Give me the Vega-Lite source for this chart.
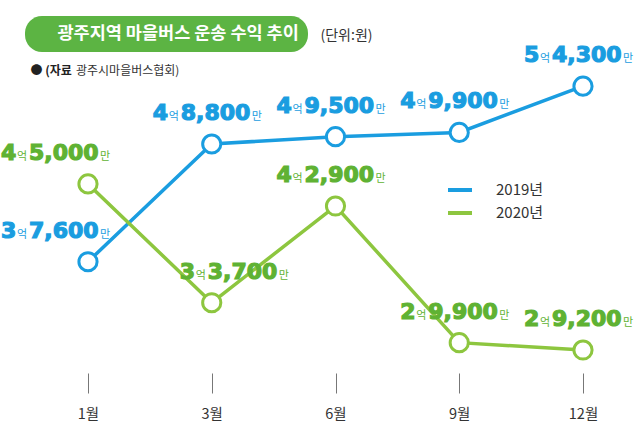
{
  "$schema": "https://vega.github.io/schema/vega-lite/v6.json",
  "autosize": "none",
  "padding": {"left": 0, "top": 0, "right": 0, "bottom": 69},
  "width": 640,
  "height": 370,
  "background": "white",
  "config": {"view": {"stroke": null}, "font": "Noto Sans CJK KR"},
  "title": {"text": "광주시마을버스협회)", "anchor": "start", "frame": "group", "orient": "top", "offset": 0, "dx": 76, "dy": 83, "baseline": "middle", "fontSize": 12, "fontWeight": "normal", "color": "#333", "font": "Noto Sans CJK KR"},
  "layer": [
    {
      "data": {"values": [
        {"month": "1월", "year": "2019년", "value": 37600, "eok": "3", "man": "7,600"},
        {"month": "3월", "year": "2019년", "value": 48800, "eok": "4", "man": "8,800"},
        {"month": "6월", "year": "2019년", "value": 49500, "eok": "4", "man": "9,500"},
        {"month": "9월", "year": "2019년", "value": 49900, "eok": "4", "man": "9,900"},
        {"month": "12월", "year": "2019년", "value": 54300, "eok": "5", "man": "4,300"},
        {"month": "1월", "year": "2020년", "value": 45000, "eok": "4", "man": "5,000"},
        {"month": "3월", "year": "2020년", "value": 33700, "eok": "3", "man": "3,700"},
        {"month": "6월", "year": "2020년", "value": 42900, "eok": "4", "man": "2,900"},
        {"month": "9월", "year": "2020년", "value": 29900, "eok": "2", "man": "9,900"},
        {"month": "12월", "year": "2020년", "value": 29200, "eok": "2", "man": "9,200"}
      ]},
      "encoding": {
        "x": {"field": "month", "type": "ordinal", "sort": ["1월", "3월", "6월", "9월", "12월"],
          "scale": {"type": "point", "range": [88, 583], "padding": 0},
          "axis": {"title": "● (자료", "titleX": 30, "titleY": -303, "titleAlign": "left", "titleBaseline": "middle", "titleFontSize": 12, "titleFontWeight": "bold", "titleColor": "#222", "titleFont": "Noto Sans CJK KR",
            "domain": false, "grid": false, "ticks": true, "tickSize": 20, "tickColor": "#777", "tickWidth": 1, "offset": 3,
            "labelFontSize": 14.5, "labelColor": "#333", "labelPadding": 14, "labelAngle": 0, "labelFont": "Noto Sans CJK KR"}},
        "y": {"field": "value", "type": "quantitative",
          "scale": {"domain": [27300, 62500], "nice": false, "zero": false},
          "axis": {"title": "(단위:원)", "titleX": 320, "titleY": 35, "titleAngle": 0, "titleAlign": "left", "titleBaseline": "middle", "titleFontSize": 14, "titleFontWeight": "normal", "titleColor": "#333", "titleFont": "Noto Sans CJK KR",
            "labels": false, "ticks": false, "domain": false, "grid": false}}
      },
      "layer": [
        {"mark": {"type": "line", "strokeWidth": 3.5},
         "encoding": {"color": {"field": "year", "type": "nominal",
           "scale": {"domain": ["2019년", "2020년"], "range": ["#1a9de0", "#8dc63f"]},
           "legend": {"orient": "none", "legendX": 446, "legendY": 176, "title": null, "symbolType": "stroke", "symbolSize": 576, "symbolStrokeWidth": 4, "labelFontSize": 15, "labelColor": "#333", "labelOffset": 22, "padding": 0, "rowPadding": 1, "labelFont": "Noto Sans CJK KR"}}}},
        {"mark": {"type": "point", "shape": "circle", "filled": true, "fill": "white", "size": 330, "strokeWidth": 3, "opacity": 1},
         "encoding": {"stroke": {"field": "year", "type": "nominal",
           "scale": {"domain": ["2019년", "2020년"], "range": ["#1a9de0", "#8dc63f"]}, "legend": null}}},

        {"transform": [{"filter": "datum.month === '1월'"}],
         "mark": {"type": "text", "align": "left", "baseline": "alphabetic", "font": "DejaVu Sans", "fontWeight": "bold", "fontSize": 22, "strokeWidth": 1.2, "dx": -87, "dy": -24},
         "encoding": {"text": {"field": "eok"}, "fill": {"condition": {"test": "datum.year === '2019년'", "value": "#1a9de0"}, "value": "#5fb233"}, "stroke": {"condition": {"test": "datum.year === '2019년'", "value": "#1a9de0"}, "value": "#5fb233"}}},
        {"transform": [{"filter": "datum.month === '1월'"}],
         "mark": {"type": "text", "text": "억", "align": "left", "baseline": "alphabetic", "font": "Noto Sans CJK KR", "fontSize": 11, "dx": -71, "dy": -24},
         "encoding": {"fill": {"condition": {"test": "datum.year === '2019년'", "value": "#1a9de0"}, "value": "#5fb233"}}},
        {"transform": [{"filter": "datum.month === '1월'"}],
         "mark": {"type": "text", "align": "left", "baseline": "alphabetic", "font": "DejaVu Sans", "fontWeight": "bold", "fontSize": 22, "strokeWidth": 1.2, "dx": -59, "dy": -24},
         "encoding": {"text": {"field": "man"}, "fill": {"condition": {"test": "datum.year === '2019년'", "value": "#1a9de0"}, "value": "#5fb233"}, "stroke": {"condition": {"test": "datum.year === '2019년'", "value": "#1a9de0"}, "value": "#5fb233"}}},
        {"transform": [{"filter": "datum.month === '1월'"}],
         "mark": {"type": "text", "text": "만", "align": "left", "baseline": "alphabetic", "font": "Noto Sans CJK KR", "fontSize": 11, "dx": 12, "dy": -24},
         "encoding": {"fill": {"condition": {"test": "datum.year === '2019년'", "value": "#1a9de0"}, "value": "#5fb233"}}},

        {"transform": [{"filter": "datum.month === '3월' && datum.year === '2020년'"}],
         "mark": {"type": "text", "align": "left", "baseline": "alphabetic", "font": "DejaVu Sans", "fontWeight": "bold", "fontSize": 22, "strokeWidth": 1.2, "dx": -32, "dy": -24},
         "encoding": {"text": {"field": "eok"}, "fill": {"value": "#5fb233"}, "stroke": {"value": "#5fb233"}}},
        {"transform": [{"filter": "datum.month === '3월' && datum.year === '2020년'"}],
         "mark": {"type": "text", "text": "억", "align": "left", "baseline": "alphabetic", "font": "Noto Sans CJK KR", "fontSize": 11, "dx": -16, "dy": -24},
         "encoding": {"fill": {"value": "#5fb233"}}},
        {"transform": [{"filter": "datum.month === '3월' && datum.year === '2020년'"}],
         "mark": {"type": "text", "align": "left", "baseline": "alphabetic", "font": "DejaVu Sans", "fontWeight": "bold", "fontSize": 22, "strokeWidth": 1.2, "dx": -4, "dy": -24},
         "encoding": {"text": {"field": "man"}, "fill": {"value": "#5fb233"}, "stroke": {"value": "#5fb233"}}},
        {"transform": [{"filter": "datum.month === '3월' && datum.year === '2020년'"}],
         "mark": {"type": "text", "text": "만", "align": "left", "baseline": "alphabetic", "font": "Noto Sans CJK KR", "fontSize": 11, "dx": 67, "dy": -24},
         "encoding": {"fill": {"value": "#5fb233"}}},

        {"transform": [{"filter": "datum.month !== '1월' && !(datum.month === '3월' && datum.year === '2020년')"}],
         "mark": {"type": "text", "align": "left", "baseline": "alphabetic", "font": "DejaVu Sans", "fontWeight": "bold", "fontSize": 22, "strokeWidth": 1.2, "dx": -59, "dy": -24},
         "encoding": {"text": {"field": "eok"}, "fill": {"condition": {"test": "datum.year === '2019년'", "value": "#1a9de0"}, "value": "#5fb233"}, "stroke": {"condition": {"test": "datum.year === '2019년'", "value": "#1a9de0"}, "value": "#5fb233"}}},
        {"transform": [{"filter": "datum.month !== '1월' && !(datum.month === '3월' && datum.year === '2020년')"}],
         "mark": {"type": "text", "text": "억", "align": "left", "baseline": "alphabetic", "font": "Noto Sans CJK KR", "fontSize": 11, "dx": -43, "dy": -24},
         "encoding": {"fill": {"condition": {"test": "datum.year === '2019년'", "value": "#1a9de0"}, "value": "#5fb233"}}},
        {"transform": [{"filter": "datum.month !== '1월' && !(datum.month === '3월' && datum.year === '2020년')"}],
         "mark": {"type": "text", "align": "left", "baseline": "alphabetic", "font": "DejaVu Sans", "fontWeight": "bold", "fontSize": 22, "strokeWidth": 1.2, "dx": -31, "dy": -24},
         "encoding": {"text": {"field": "man"}, "fill": {"condition": {"test": "datum.year === '2019년'", "value": "#1a9de0"}, "value": "#5fb233"}, "stroke": {"condition": {"test": "datum.year === '2019년'", "value": "#1a9de0"}, "value": "#5fb233"}}},
        {"transform": [{"filter": "datum.month !== '1월' && !(datum.month === '3월' && datum.year === '2020년')"}],
         "mark": {"type": "text", "text": "만", "align": "left", "baseline": "alphabetic", "font": "Noto Sans CJK KR", "fontSize": 11, "dx": 40, "dy": -24},
         "encoding": {"fill": {"condition": {"test": "datum.year === '2019년'", "value": "#1a9de0"}, "value": "#5fb233"}}}
      ]
    },
    {
      "data": {"values": [{"t": "광주지역 마을버스 운송 수익 추이"}]},
      "mark": {"type": "point", "opacity": 0},
      "encoding": {"shape": {"field": "t", "type": "nominal",
        "legend": {"orient": "none", "legendX": 25, "legendY": 16, "title": null, "fillColor": "#5cb443", "cornerRadius": 17, "padding": 9,
          "labelColor": "white", "labelFontSize": 17.5, "labelFontWeight": "bold", "labelFont": "Noto Sans CJK KR", "labelLimit": 1000,
          "symbolSize": 0, "symbolOpacity": 0, "symbolStrokeWidth": 0, "labelOffset": 6}}}
    }
  ]
}
